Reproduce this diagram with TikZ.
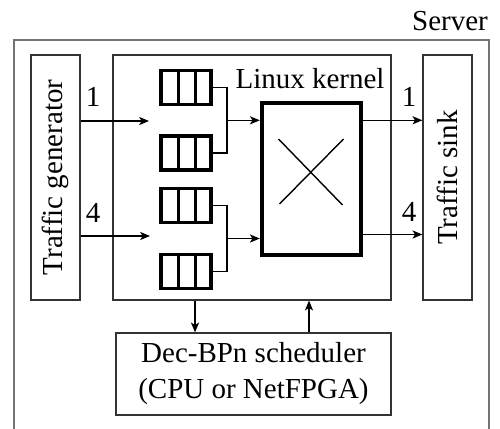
\documentclass[tikz,border=0pt]{standalone}
\usepackage{fontspec}
\setmainfont{Liberation Serif}
\newfontfamily\diagfont{Liberation Serif}
\usetikzlibrary{positioning, calc, arrows.meta}

\begin{document}
\begin{tikzpicture}[
        x=0.02cm, y=-0.02cm,
        >={Stealth[length=5.6pt, width=4.6pt, inset=1.4pt]},
        every node/.style={font=\diagfont\fontsize{16.5}{20.5}\selectfont},
        box/.style={draw=black!80, line width=0.7pt, rectangle, align=center, inner sep=0pt},
        sidebox/.style={box, minimum width=0.98cm, minimum height=4.9cm},
        queue/.style={draw, line width=1.8pt, rectangle, minimum width=1cm, minimum height=0.68cm, inner sep=0pt},
        switch/.style={draw, line width=2.5pt, rectangle, minimum width=1.98cm, minimum height=3.04cm, inner sep=0pt},
        link/.style={line width=0.8pt}
    ]

    \useasboundingbox (0,0) rectangle (500,429);

    \node[anchor=east] (server) at (494,21) {Server};
    \draw[black!55, line width=0.8pt] (14,429) |- (489,40) -- (489,429);

    \node[sidebox] (gen) at (55.5,177.5) {};
    \node[rotate=90] at (gen.center) {Traffic generator};
    \node[box, minimum width=5.56cm, minimum height=4.9cm] (kernel) at (252,177.5) {};
    \node (kernellabel) at (310,79) {Linux kernel};
    \node[sidebox] (sink) at (447.5,177.5) {};
    \node[rotate=90] at (sink.center) {Traffic sink};

    \node[queue] (q1) at (186,87.5) {};
    \node[queue] (q2) at (186,153) {};
    \node[queue] (q3) at (186,205.5) {};
    \node[queue] (q4) at (186,271.5) {};
    \foreach \q in {q1,q2,q3,q4}
        \foreach \f in {0.36,0.68}
            \draw[line width=1.8pt] ($(\q.north west)!\f!(\q.north east)$) -- ($(\q.south west)!\f!(\q.south east)$);

    \node[switch] (sw) at (311.5,179) {};
    \draw[link] ([shift={(-33,-40)}]sw.center) -- ([shift={(31,26)}]sw.center);
    \draw[link] ([shift={(32,-40)}]sw.center) -- ([shift={(-32,25)}]sw.center);

    \node[box, minimum width=5.5cm, minimum height=1.64cm] (sched) at (253.5,374) {Dec-BPn scheduler\\(CPU or NetFPGA)};

    \coordinate (in1) at (149,121);
    \coordinate (in4) at (150,236);
    \coordinate (j1) at (227,120.3);
    \coordinate (j2) at (227,238.5);
    \coordinate (out4) at (361,234.5);

    \draw[->, link] (gen.east |- in1) -- (in1);
    \draw[->, link] (gen.east |- in4) -- (in4);

    \draw[link] (q1.east) -| (j1);
    \draw[link] (q2.east) -| (j1);
    \draw[link] (q3.east) -| (j2);
    \draw[link] (q4.east) -| (j2);
    \draw[->, link] (j1) -- (j1 -| sw.west);
    \draw[->, link] (j2) -- (j2 -| sw.west);

    \draw[->, link] (sw.east |- j1) -- (sink.west |- j1);
    \draw[->, link] (out4) -- (sink.west |- out4);

    \node (lin1) at (93,97) {1};
    \node (lin4) at (93,213) {4};
    \node (lout1) at (409,97) {1};
    \node (lout4) at (409,212) {4};

    \coordinate (dn) at ([xshift=-1.14cm]kernel.south);
    \coordinate (up) at ([xshift=1.11cm]sched.north);
    \draw[->, link] (dn) -- (dn |- sched.north);
    \draw[->, link] (up) -- (up |- kernel.south);

\end{tikzpicture}
\end{document}
